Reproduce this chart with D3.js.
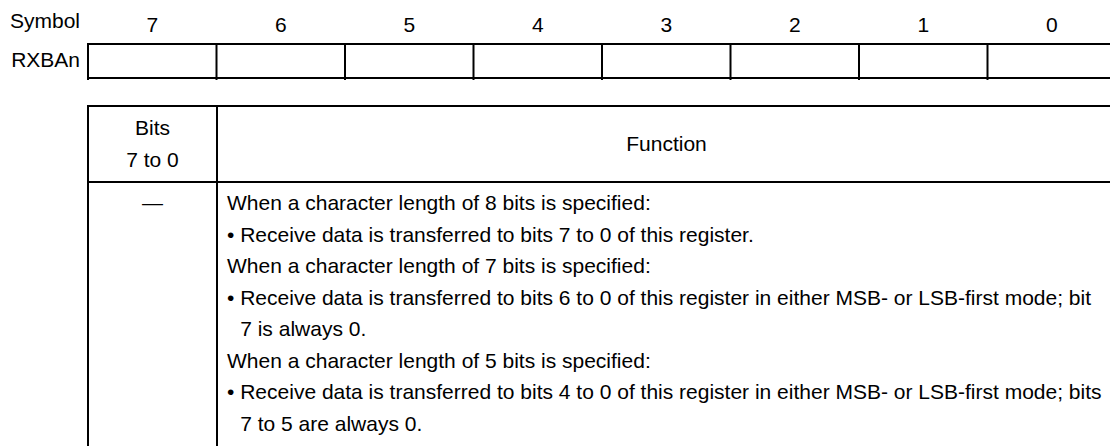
<!DOCTYPE html>
<html>
<head>
<meta charset="utf-8">
<script src="https://cdn.jsdelivr.net/npm/d3@7"></script>
<style>
  html, body { margin: 0; padding: 0; background: #fff; }
  svg { display: block; }
  text { font-family: "Liberation Sans", Arial, Helvetica, sans-serif; fill: #000; }
</style>
</head>
<body>
<svg id="chart" width="1110" height="446"></svg>
<script>
// ---- data ----
const symbolLabel = "Symbol";
const registerName = "RXBAn";
const bitLabels = ["7", "6", "5", "4", "3", "2", "1", "0"];
const headerBits = ["Bits", "7 to 0"];
const headerFunction = "Function";
const rowBits = "\u2014";
// [text, isBullet, isContinuation]
const functionLines = [
  ["When a character length of 8 bits is specified:", false, false],
  ["Receive data is transferred to bits 7 to 0 of this register.", true, false],
  ["When a character length of 7 bits is specified:", false, false],
  ["Receive data is transferred to bits 6 to 0 of this register in either MSB- or LSB-first mode; bit", true, false],
  ["7 is always 0.", false, true],
  ["When a character length of 5 bits is specified:", false, false],
  ["Receive data is transferred to bits 4 to 0 of this register in either MSB- or LSB-first mode; bits", true, false],
  ["7 to 5 are always 0.", false, true]
];

// ---- layout ----
const W = 1110, H = 446;
const fs = 21;
const svg = d3.select("#chart");
const regLeft = 88, regRight = 1116;
const regTop = 44, regBottom = 78;
const x = d3.scaleBand().domain(bitLabels).range([regLeft, regRight]);
const sw = 2;

// symbol row
svg.append("text").attr("x", 10).attr("y", 28).attr("font-size", fs).text(symbolLabel);
svg.selectAll("text.bitnum").data(bitLabels).enter().append("text")
  .attr("class", "bitnum")
  .attr("x", d => x(d) + x.bandwidth() / 2)
  .attr("y", 32)
  .attr("text-anchor", "middle")
  .attr("font-size", fs)
  .text(d => d);

// register row
svg.append("text").attr("x", 80).attr("y", 67).attr("text-anchor", "end").attr("font-size", fs).text(registerName);
svg.append("line").attr("x1", regLeft - 1).attr("x2", regRight).attr("y1", regTop).attr("y2", regTop)
  .attr("stroke", "#000").attr("stroke-width", sw);
svg.append("line").attr("x1", regLeft - 1).attr("x2", regRight).attr("y1", regBottom).attr("y2", regBottom)
  .attr("stroke", "#000").attr("stroke-width", sw);
svg.selectAll("line.regdiv").data(bitLabels).enter().append("line")
  .attr("class", "regdiv")
  .attr("x1", d => x(d)).attr("x2", d => x(d))
  .attr("y1", regTop).attr("y2", regBottom + 2)
  .attr("stroke", "#000").attr("stroke-width", sw);

// function table
const tTop = 106, tHead = 182, tBottom = H + 5;
const c0 = regLeft, c1 = 217, c2 = regRight;
const hline = (y) => svg.append("line").attr("x1", c0 - 1).attr("x2", c2).attr("y1", y).attr("y2", y)
  .attr("stroke", "#000").attr("stroke-width", sw);
const vline = (xx) => svg.append("line").attr("x1", xx).attr("x2", xx).attr("y1", tTop - 1).attr("y2", tBottom)
  .attr("stroke", "#000").attr("stroke-width", sw);
hline(tTop); hline(tHead);
vline(c0); vline(c1);

const bitsCx = (c0 + c1) / 2;
svg.selectAll("text.hb").data(headerBits).enter().append("text")
  .attr("class", "hb")
  .attr("x", bitsCx)
  .attr("y", (d, i) => 135 + i * 32)
  .attr("text-anchor", "middle").attr("font-size", fs).text(d => d);
svg.append("text").attr("x", (c1 + c2) / 2).attr("y", 151).attr("text-anchor", "middle")
  .attr("font-size", fs).text(headerFunction);

svg.append("text").attr("x", bitsCx).attr("y", 210).attr("text-anchor", "middle")
  .attr("font-size", fs).text(rowBits);

// measure bullet indent
const tmp = svg.append("text").attr("font-size", fs).text("\u2022 ");
const tmp2 = svg.append("text").attr("font-size", fs).attr("xml:space", "preserve").text("\u2022\u00a0");
const bulletW = tmp2.node().getComputedTextLength();
tmp.remove(); tmp2.remove();

const textX = 227, lineY0 = 210, lineH = 31.5;
svg.selectAll("text.fn").data(functionLines).enter().append("text")
  .attr("class", "fn")
  .attr("x", d => d[2] ? textX + bulletW : textX)
  .attr("y", (d, i) => lineY0 + i * lineH)
  .attr("font-size", fs)
  .text(d => d[1] ? "\u2022\u00a0" + d[0] : d[0]);
</script>
</body>
</html>
